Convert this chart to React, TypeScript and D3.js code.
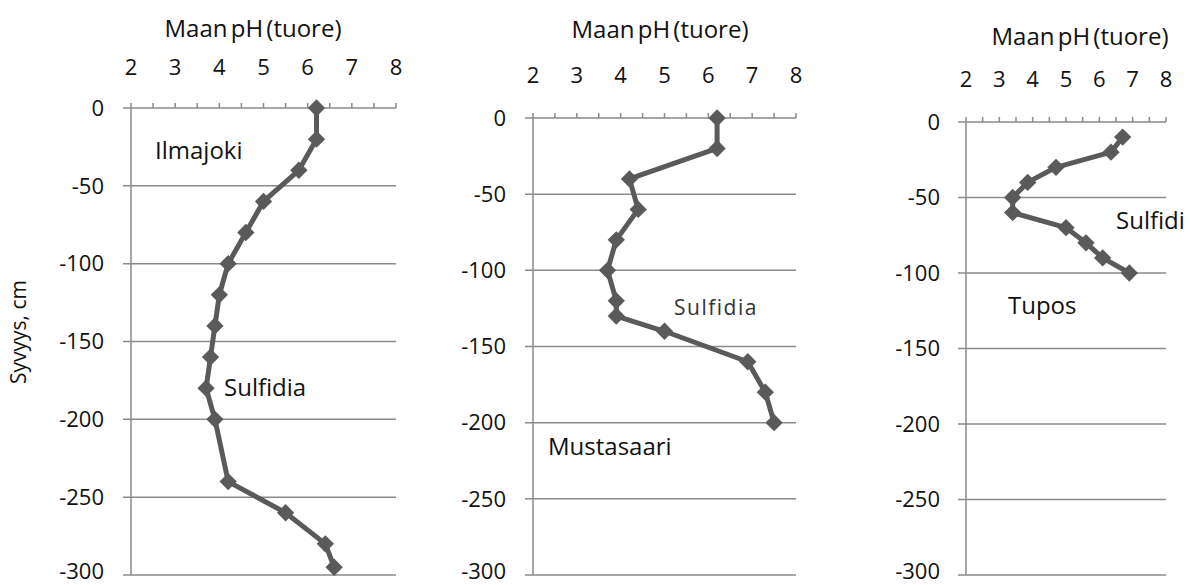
import React from 'react'
import * as d3 from 'd3'

// depth (cm) and pH readings for each site
const ilmajokiDepth = [0, -20, -40, -60, -80, -100, -120, -140, -160, -180, -200, -240, -260, -280, -295]
const ilmajokiPH = [6.2, 6.2, 5.8, 5.0, 4.6, 4.2, 4.0, 3.9, 3.8, 3.7, 3.9, 4.2, 5.5, 6.4, 6.6]

const mustasaariDepth = [0, -20, -40, -60, -80, -100, -120, -130, -140, -160, -180, -200]
const mustasaariPH = [6.2, 6.2, 4.2, 4.4, 3.9, 3.7, 3.9, 3.9, 5.0, 6.9, 7.3, 7.5]

const tuposDepth = [-10, -20, -30, -40, -50, -60, -70, -80, -90, -100]
const tuposPH = [6.7, 6.35, 4.7, 3.85, 3.4, 3.4, 5.0, 5.6, 6.1, 6.9]

const phTicks = [2, 3, 4, 5, 6, 7, 8]
const phMinorTicks = [2, 2.5, 3, 3.5, 4, 4.5, 5, 5.5, 6, 6.5, 7, 7.5, 8]
const depthTicks = [0, -50, -100, -150, -200, -250, -300]
const axisTitle = 'Maan pH (tuore)'
const depthTitle = 'Syvyys, cm'

const font = '"Open Sans", "Noto Sans", sans-serif'
const lineCol = '#5a5a5a'
const axisCol = '#8a8a8a'

type Label = { text: string; x: number; y: number; size?: number; spacing?: number; color?: string }

function Panel(props: {
  depth: number[]; ph: number[]
  x0: number; x1: number; y0: number; y1: number
  titleX: number; titleY: number; tickY: number; labelRight: number
  labels: Label[]
}) {
  const { depth, ph, x0, x1, y0, y1 } = props
  const x = d3.scaleLinear().domain([2, 8]).range([x0, x1])
  const y = d3.scaleLinear().domain([0, -300]).range([y0, y1])
  const pts = depth.map((d, i) => [ph[i], d] as [number, number])
  const line = d3.line<[number, number]>().x(d => x(d[0])).y(d => y(d[1]))
  const diamond = d3.symbol().type(d3.symbolSquare).size(150)()

  return (
    <g>
      {depthTicks.filter(t => t !== 0).map(t => (
        <line key={t} x1={x0 - 8} x2={x1} y1={y(t)} y2={y(t)} stroke={axisCol} strokeWidth={1.5} />
      ))}
      <line x1={x0} x2={x0} y1={y0} y2={y1} stroke={axisCol} strokeWidth={1.5} />
      <line x1={x0 - 8} x2={x1} y1={y0} y2={y0} stroke={axisCol} strokeWidth={1.5} />
      {phMinorTicks.map(t => (
        <line key={t} x1={x(t)} x2={x(t)} y1={y0} y2={y0 - 5} stroke={axisCol} strokeWidth={1.5} />
      ))}
      {depthTicks.map(t => (
        // bottom label sits a little higher, as in the source image
        <text key={t} x={props.labelRight} y={Math.min(y(t), y1 - 4)} dy="0.35em" textAnchor="end"
          fontSize={22} fontFamily={font} fill="#111">{t}</text>
      ))}
      {phTicks.map(t => (
        <text key={t} x={x(t)} y={props.tickY} textAnchor="middle"
          fontSize={22} fontFamily={font} fill="#111">{t}</text>
      ))}
      <text x={props.titleX} y={props.titleY} textAnchor="middle" fontSize={24} fontFamily={font}
        fill="#111" wordSpacing={-3}>{axisTitle}</text>
      <path d={line(pts) ?? ''} fill="none" stroke={lineCol} strokeWidth={5} strokeLinejoin="round" />
      {pts.map((p, i) => (
        <path key={i} d={diamond ?? ''} transform={`translate(${x(p[0])},${y(p[1])}) rotate(45)`} fill={lineCol} />
      ))}
      {props.labels.map(l => (
        <text key={l.text} x={l.x} y={l.y} fontSize={l.size ?? 24} fontFamily={font}
          letterSpacing={l.spacing ?? 0} fill={l.color ?? '#111'}>{l.text}</text>
      ))}
    </g>
  )
}

export default function App() {
  return (
    <svg width={1190} height={585} style={{ position: 'absolute', left: 0, top: 0, background: '#fff' }}>
      <rect width={1190} height={585} fill="#fff" />
      <text transform="translate(26,332) rotate(-90)" textAnchor="middle" fontSize={21}
        fontFamily={font} fill="#111">{depthTitle}</text>
      <Panel depth={ilmajokiDepth} ph={ilmajokiPH} x0={131} x1={396} y0={108} y1={575}
        titleX={253} titleY={37} tickY={75} labelRight={104}
        labels={[{ text: 'Ilmajoki', x: 155, y: 159 }, { text: 'Sulfidia', x: 224, y: 396 }]} />
      <Panel depth={mustasaariDepth} ph={mustasaariPH} x0={533} x1={796} y0={118} y1={575}
        titleX={660} titleY={38} tickY={83} labelRight={506}
        labels={[{ text: 'Sulfidia', x: 674, y: 315, size: 21, spacing: 1.5, color: '#333' },
          { text: 'Mustasaari', x: 548, y: 455 }]} />
      <Panel depth={tuposDepth} ph={tuposPH} x0={966} x1={1166} y0={122} y1={575}
        titleX={1080} titleY={45} tickY={87} labelRight={940}
        labels={[{ text: 'Sulfidi', x: 1116, y: 229 }, { text: 'Tupos', x: 1008, y: 314 }]} />
    </svg>
  )
}
